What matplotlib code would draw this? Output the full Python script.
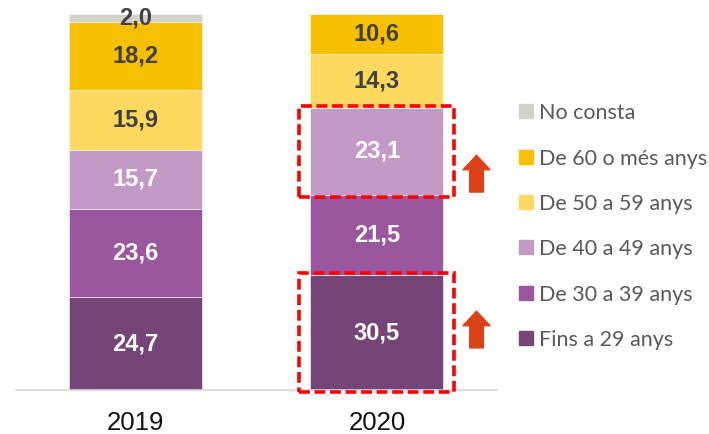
import matplotlib
matplotlib.use("Agg")
import matplotlib.pyplot as plt
from matplotlib.patches import Rectangle, FancyArrowPatch, ArrowStyle

years = ["2019", "2020"]
categories = ["Fins a 29 anys", "De 30 a 39 anys", "De 40 a 49 anys",
              "De 50 a 59 anys", "De 60 o més anys", "No consta"]
values_2019 = [24.7, 23.6, 15.7, 15.9, 18.2, 2.0]
values_2020 = [30.5, 21.5, 23.1, 14.3, 10.6, 0.0]
colors = ["#744576", "#9A579E", "#C39AC6", "#FDD960", "#F6BF00", "#D2D2C8"]
label_colors = ["white", "white", "white", "#404040", "#404040", "#404040"]
highlight_2020 = [0, 2]          # segments framed in red in 2020
arrow_bottoms = [11.2, 52.7]     # arrow anchor levels (data units)

series = [values_2019, values_2020]

W, H = 709, 434
fig = plt.figure(figsize=(W / 100, H / 100), dpi=100)
ax = fig.add_axes([16 / W, 44 / H, (497 - 16) / W, 376 / H])

x = [0, 1]
width = 0.552
bottoms = [0.0, 0.0]
for ci, cat in enumerate(categories):
    vals = [s[ci] for s in series]
    ax.bar(x, vals, width, bottom=bottoms, color=colors[ci],
           edgecolor="white", linewidth=0.4, label=cat)
    for xi, v, b in zip(x, vals, bottoms):
        if v > 0:
            ax.text(xi, b + v / 2, f"{v:.1f}".replace(".", ","),
                    ha="center", va="center", fontsize=17, fontweight="bold",
                    color=label_colors[ci], family="Liberation Sans")
    bottoms = [b + v for b, v in zip(bottoms, vals)]

ax.set_xlim(-0.4959, 1.4979)
ax.set_ylim(0, max(sum(s) for s in series))
for sp in ["top", "right", "left"]:
    ax.spines[sp].set_visible(False)
ax.spines["bottom"].set_color("#D9D9D9")
ax.spines["bottom"].set_linewidth(1.2)
ax.set_yticks([])
ax.set_xticks(x)
ax.set_xticklabels(years, fontsize=18.5, family="Liberation Sans", color="#111111")
ax.tick_params(axis="x", length=0, pad=15)

# red dashed frames + arrows on 2020
cum = [0.0]
for v in values_2020:
    cum.append(cum[-1] + v)
for seg, ab in zip(highlight_2020, arrow_bottoms):
    y0, y1 = cum[seg], cum[seg + 1]
    padx, pady = 0.045, 0.6
    r = Rectangle((1 - width / 2 - padx, y0 - pady), width + 2 * padx,
                  (y1 - y0) + 2 * pady, fill=False, edgecolor="#FF0000",
                  linewidth=2.6, linestyle=(0, (3.0, 1.3)), clip_on=False, zorder=5)
    ax.add_patch(r)
    arr = FancyArrowPatch((1.413, ab), (1.413, ab + 9.8),
                          arrowstyle=ArrowStyle.Simple(head_length=10.5, head_width=19.5,
                                                       tail_width=9.8),
                          mutation_scale=1, shrinkA=0, shrinkB=0,
                          color="#DD4118", clip_on=False, zorder=5)
    ax.add_patch(arr)

# legend (reverse order, top = No consta)
row_y = [111, 157, 202, 247, 293, 338]
for i, ci in enumerate(reversed(range(len(categories)))):
    yc = row_y[i]
    fig.patches.append(Rectangle((519 / W, 1 - (yc + 7) / H), 14 / W, 14 / H,
                                 transform=fig.transFigure, color=colors[ci]))
    fig.text(539 / W, 1 - yc / H, categories[ci], ha="left", va="center_baseline",
             fontsize=15.5, color="#595959", family="Lato")

fig.savefig("out.png", dpi=100)
